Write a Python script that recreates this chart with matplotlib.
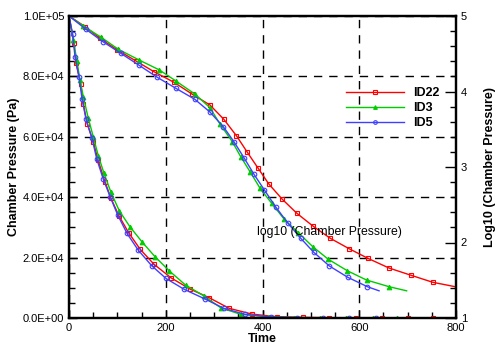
import matplotlib
matplotlib.use("Agg")
import matplotlib.pyplot as plt
from matplotlib.ticker import MultipleLocator, FuncFormatter

plt.rcParams['font.family'] = ['Liberation Sans', 'DejaVu Sans']

# pressure (Pa) vs time, left axis
t22_lin = [0, 10.3, 14.5, 24.2, 29.6, 37.8, 50.2, 60, 74.4, 86.8, 103.4, 123.4, 147.4, 175.7,
           210.9, 250, 290, 331, 378, 431, 484, 538, 593, 648, 700, 752, 800]
p22_lin = [100000, 91000, 84300, 77500, 70900, 64200, 58400, 52300, 45100, 39600, 33800, 28200,
           22700, 17800, 13300, 9600, 6700, 3200, 1300, 400, 210, 115, 78, 50, 37, 30, 26]

t3_lin = [0, 8.9, 16.5, 22.7, 29.6, 39.9, 50.2, 60.6, 72.4, 86.8, 104, 126, 151.5, 177.8, 207.3,
          241, 279, 313.6, 355, 412, 465, 519, 573, 628, 679, 700]
p3_lin = [100000, 92100, 85000, 78800, 73300, 66100, 60000, 53700, 47900, 41600, 35500, 30200,
          25100, 20300, 15600, 10900, 7300, 3400, 1200, 400, 150, 74, 42, 30, 25, 23]

t5_lin = [0, 7.6, 12.4, 20.7, 26.9, 35.1, 47.5, 57.3, 71, 85, 100.7, 120, 143, 171, 200.5, 238,
          281, 320, 364, 417.6, 472, 525.7, 579.5, 634, 641]
p5_lin = [100000, 94000, 86500, 79900, 72500, 65900, 59500, 52700, 45900, 40200, 34100, 28000,
          22500, 17300, 13100, 9500, 6300, 3200, 1200, 350, 130, 60, 33, 24, 23]

# log10(pressure) vs time, right axis
t22_log = [0, 33, 64, 100, 138.5, 175.7, 217, 255, 291.5, 320, 346, 368.6, 391, 413, 441, 471,
           504, 540, 579, 618, 661.5, 707, 752, 798]
l22_log = [5, 4.86, 4.705, 4.55, 4.404, 4.262, 4.122, 3.963, 3.821, 3.632, 3.415, 3.195, 2.983,
           2.775, 2.572, 2.387, 2.219, 2.056, 1.918, 1.79, 1.662, 1.566, 1.473, 1.415]

t3_log = [0, 29.6, 66, 102, 145, 187, 221, 260, 291.5, 312, 337.6, 355, 374, 395, 419, 445, 474,
          504, 536, 575, 615, 662, 698]
l3_log = [5, 4.868, 4.72, 4.559, 4.417, 4.285, 4.139, 3.967, 3.785, 3.57, 3.335, 3.136, 2.94,
          2.718, 2.519, 2.307, 2.13, 1.944, 1.778, 1.627, 1.503, 1.414, 1.36]

t5_log = [0, 35, 70, 107, 145, 182, 221, 260, 291, 319, 341, 362, 382, 404, 427, 452, 479, 506,
          538, 576, 617, 641]
l5_log = [5, 4.824, 4.66, 4.506, 4.347, 4.19, 4.042, 3.897, 3.73, 3.534, 3.335, 3.12, 2.907,
          2.695, 2.474, 2.26, 2.056, 1.87, 1.69, 1.54, 1.414, 1.36]

labels = ["ID22", "ID3", "ID5"]
red, green, blue = "#ff0000", "#00cc00", "#3f3fff"

fig = plt.figure(figsize=(4.99, 3.46), dpi=100)
ax = fig.add_axes([69 / 499, 28 / 346, 387 / 499, 302 / 346])
ax2 = ax.twinx()

mk = dict(markersize=3.3, linewidth=1, markeredgewidth=0.8)
ax.plot(t22_lin, p22_lin, color=red, marker="s", mfc="none", markevery=slice(1, -1), **mk)
ax.plot(t3_lin, p3_lin, color=green, marker="^", markevery=slice(1, -1), **mk)
ax.plot(t5_lin, p5_lin, color=blue, marker="o", mfc="none", markevery=slice(1, -1), **mk)

l1, = ax2.plot(t22_log, l22_log, color=red, marker="s", mfc="none", markevery=slice(1, -1), **mk)
l2, = ax2.plot(t3_log, l3_log, color=green, marker="^", markevery=slice(1, -1), **mk)
l3, = ax2.plot(t5_log, l5_log, color=blue, marker="o", mfc="none", markevery=slice(1, -1), **mk)

ax.set_xlim(0, 800)
ax.set_ylim(0, 100000)
ax2.set_ylim(1, 5)

ax.xaxis.set_major_locator(MultipleLocator(200))
ax.xaxis.set_minor_locator(MultipleLocator(50))
ax.yaxis.set_major_locator(MultipleLocator(20000))
ax.yaxis.set_minor_locator(MultipleLocator(5000))
ax.yaxis.set_major_formatter(FuncFormatter(lambda v, p: f"{v:.1E}"))
ax2.yaxis.set_major_locator(MultipleLocator(1))
ax2.yaxis.set_minor_locator(MultipleLocator(0.2))

ax.tick_params(axis="both", which="both", direction="in", labelsize=8, top=False, right=False)
ax.tick_params(which="major", length=6, width=1)
ax.tick_params(which="minor", length=4, width=1)
ax2.tick_params(axis="y", which="both", direction="in", labelsize=8)
ax2.tick_params(which="major", length=8, width=1)
ax2.tick_params(which="minor", length=4, width=1)

ax.grid(True, which="major", color="black", linestyle=(0, (6, 5)), linewidth=1)
ax.set_axisbelow(True)
for a in (ax, ax2):
    for s in a.spines.values():
        s.set_linewidth(1.6)

ax.set_xlabel("Time", fontsize=9, fontweight="bold", labelpad=0)
ax.set_ylabel("Chamber Pressure (Pa)", fontsize=9, fontweight="bold", labelpad=2)
ax2.set_ylabel("Log10 (Chamber Pressure)", fontsize=9, fontweight="bold", labelpad=12)

ax2.text(388, 2.14, "log10 (Chamber Pressure)", fontsize=8.8, va="center", ha="left")

leg = ax2.legend([l1, l2, l3], labels, loc="upper left", bbox_to_anchor=(346 / 499, 1 - 87 / 346),
                 bbox_transform=fig.transFigure, frameon=False, handlelength=4.6,
                 handletextpad=0.8, labelspacing=0.25, borderpad=0, borderaxespad=0,
                 markerscale=0.8, prop=dict(size=9, weight="bold"))

plt.savefig("out.png", dpi=100)
plt.close(fig)
